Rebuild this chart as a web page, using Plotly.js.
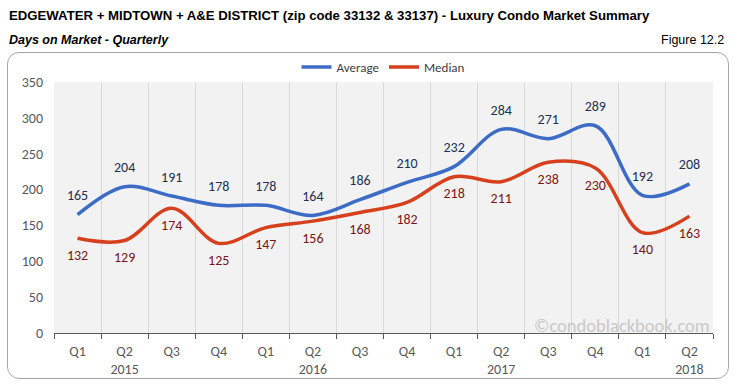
<!DOCTYPE html>
<html><head><meta charset="utf-8">
<script src="https://cdn.plot.ly/plotly-3.0.1.min.js"></script>
<style>
html,body{margin:0;padding:0;background:#fff;}
#wrap{position:relative;width:735px;height:385px;}
#box{position:absolute;left:7px;top:52px;width:720px;height:325px;border:1px solid #a6a6a6;border-radius:12px;}
#chart{position:absolute;left:0;top:0;width:735px;height:385px;}
</style></head>
<body><div id="wrap"><div id="box"></div><div id="chart"></div></div>
<script>
const quarters = ["Q1","Q2","Q3","Q4","Q1","Q2","Q3","Q4","Q1","Q2","Q3","Q4","Q1","Q2"];
const years = ["", "2015", "", "", "", "2016", "", "", "", "2017", "", "", "", "2018"];
const categories = ["2015 Q1","2015 Q2","2015 Q3","2015 Q4","2016 Q1","2016 Q2","2016 Q3","2016 Q4","2017 Q1","2017 Q2","2017 Q3","2017 Q4","2018 Q1","2018 Q2"];
const average = [165,204,191,178,178,164,186,210,232,284,271,289,192,208];
const median = [132,129,174,125,147,156,168,182,218,211,238,230,140,163];

const font = "Calibri, Carlito, Lato, 'Open Sans', sans-serif";
const titleFont = "'Liberation Sans Narrow','Arial Narrow','Liberation Sans',Arial,sans-serif";
const ticktext = quarters.map((q,i)=> years[i] ? q + "<br>" + years[i] : q);

const traces = [
 {x:categories, y:average, name:"Average", type:"scatter", mode:"lines+markers+text",
  line:{color:"#3d6cc6", width:3.5, shape:"spline", smoothing:1},
  marker:{size:16, color:"rgba(0,0,0,0)"},
  text:average.map(String), textposition:"top center",
  textfont:{family:font, size:14, color:"#1f3050"}, cliponaxis:false},
 {x:categories, y:median, name:"Median", type:"scatter", mode:"lines+markers+text",
  line:{color:"#d6401c", width:3.5, shape:"spline", smoothing:1},
  marker:{size:16, color:"rgba(0,0,0,0)"},
  text:median.map(String), textposition:"bottom center",
  textfont:{family:font, size:14, color:"#7a1414"}, cliponaxis:false}
];

const layout = {
 width:735, height:385,
 margin:{l:54, r:22, t:82, b:52},
 paper_bgcolor:"rgba(0,0,0,0)", plot_bgcolor:"#f2f2f2",
 font:{family:font, size:14, color:"#595959"},
 showlegend:true,
 legend:{orientation:"h", x:0.5, xanchor:"center", y:1.0, yanchor:"bottom",
   font:{family:font, size:13, color:"#404040"}, bgcolor:"rgba(0,0,0,0)", itemwidth:30},
 xaxis:{type:"category", range:[-0.5, categories.length-0.5], autorange:false,
   tickmode:"array", tickvals:categories, ticktext:ticktext,
   tickson:"boundaries", showgrid:true, gridcolor:"#d9d9d9", gridwidth:1,
   ticks:"outside", ticklen:5, tickcolor:"#595959", showline:true, linecolor:"#595959", linewidth:1,
   ticklabelstandoff:5,
   tickfont:{family:font, size:14, color:"#595959"}, zeroline:false, fixedrange:true},
 yaxis:{range:[0,350], autorange:false, tickmode:"array", tickvals:[0,50,100,150,200,250,300,350],
   showgrid:false, zeroline:false, showline:false, ticks:"", ticklabelstandoff:10,
   tickfont:{family:font, size:14, color:"#595959"}, fixedrange:true},
 annotations:[
  {xref:"paper", yref:"paper", x:(7-54)/659, y:(385-15-52)/251, xanchor:"left", yanchor:"middle",
   text:"<b>EDGEWATER + MIDTOWN + A&amp;E DISTRICT (zip code 33132 &amp; 33137) - Luxury Condo Market Summary</b>",
   showarrow:false, font:{family:titleFont, size:13.2, color:"#000"}},
  {xref:"paper", yref:"paper", x:(7-54)/659, y:(385-40-52)/251, xanchor:"left", yanchor:"middle",
   text:"<b><i>Days on Market - Quarterly</i></b>",
   showarrow:false, font:{family:titleFont, size:12.5, color:"#000"}},
  {xref:"paper", yref:"paper", x:(726-54)/659, y:(385-40-52)/251, xanchor:"right", yanchor:"middle",
   text:"Figure 12.2",
   showarrow:false, font:{family:titleFont, size:12.5, color:"#000"}},
  {xref:"paper", yref:"paper", x:(712-54)/659, y:(385-325-52)/251, xanchor:"right", yanchor:"middle",
   text:"©condoblackbook.com",
   showarrow:false, font:{family:font, size:18.5, color:"#c9c9c9"}}
 ]
};
Plotly.newPlot("chart", traces, layout, {displayModeBar:false, staticPlot:true});
</script></body></html>
